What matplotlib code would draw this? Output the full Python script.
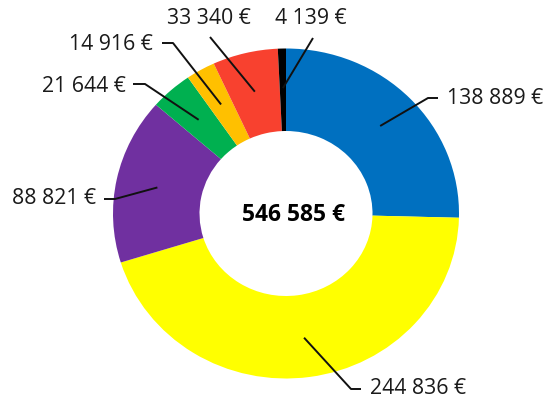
import matplotlib
matplotlib.use("Agg")
import matplotlib.pyplot as plt
import numpy as np

# ---- data ----
values = [138889, 244836, 88821, 21644, 14916, 33340, 4139]
labels = ["138 889 €", "244 836 €", "88 821 €", "21 644 €", "14 916 €", "33 340 €", "4 139 €"]
colors = ["#0070C0", "#FFFF00", "#7030A0", "#00B050", "#FFC000", "#F8412F", "#000000"]
total_label = "546 585 €"

# ---- layout (pixel coordinates, y measured from top of image) ----
W, H = 549, 400
cx, cy = 286, 213.5      # ring centre
rx, ry = 173, 165        # horizontal / vertical outer radius in pixels (slightly stretched)
hole = 0.5               # inner radius fraction
# per label: (elbow point, line end, text anchor, ha)
label_layout = [
    ((428, 98), (438, 98), (447, 99), "left"),
    ((351, 389), (361, 389), (370, 389), "left"),
    ((115, 199), (104, 199), (96, 198), "right"),
    ((145, 84), (133, 84), (126, 86), "right"),
    ((173, 43), (162, 43), (153, 44), "right"),
    ((210, 37), (210, 37), (209, 19), "center"),
    ((313, 38), (313, 38), (311, 19), "center"),
]

plt.rcParams["font.family"] = ["Open Sans", "DejaVu Sans"]

fig = plt.figure(figsize=(W / 100, H / 100), dpi=100)
ax = fig.add_axes([0, 0, 1, 1])

def px(x):
    return (x - cx) / rx

def py(y):
    return (cy - y) / ry

wedges, _ = ax.pie(values, colors=colors, startangle=90, counterclock=False,
                   radius=1.0, center=(0, 0),
                   wedgeprops=dict(width=1 - hole, linewidth=0))

ax.set_xlim(px(0), px(W))
ax.set_ylim(py(H), py(0))
ax.set_aspect("auto")
ax.axis("off")

r_lead = 0.76
for w, lab, (elbow, end, tpos, ha) in zip(wedges, labels, label_layout):
    ang = np.deg2rad((w.theta1 + w.theta2) / 2)
    sx = r_lead * np.cos(ang)
    sy = r_lead * np.sin(ang)
    ax.plot([sx, px(elbow[0]), px(end[0])], [sy, py(elbow[1]), py(end[1])],
            color="#111111", lw=1.4, solid_capstyle="butt")
    ax.text(px(tpos[0]), py(tpos[1]), lab, ha=ha, va="center", fontsize=15.3, color="#1a1a1a")

ax.text(px(293), py(215), total_label, ha="center", va="center",
        fontsize=16.5, fontweight="bold", color="black")

fig.savefig("out.png", dpi=100)
